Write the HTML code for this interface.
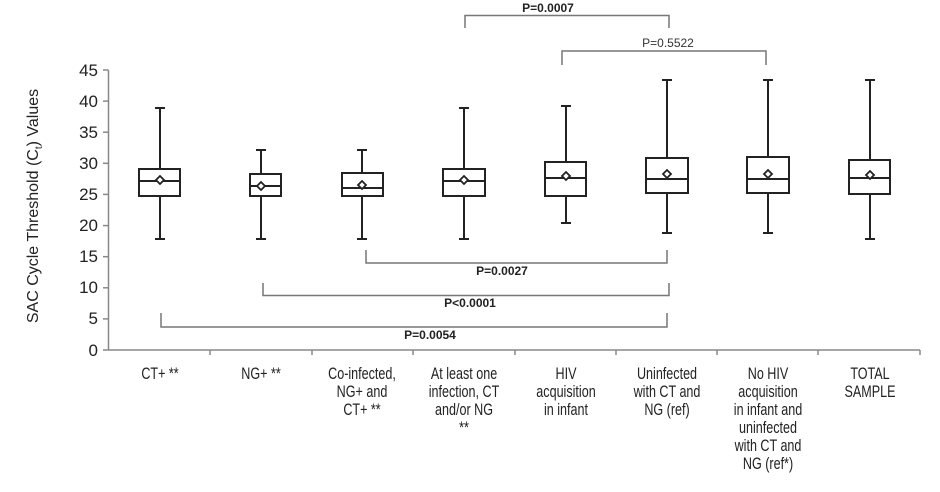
<!DOCTYPE html>
<html><head><meta charset="utf-8"><style>
html,body{margin:0;padding:0;background:#fff;}
svg{display:block;}
.b{font-family:"Liberation Sans",Arial,sans-serif;}
</style></head><body>
<svg width="940" height="492" viewBox="0 0 940 492" xmlns="http://www.w3.org/2000/svg" class="b">
<rect width="940" height="492" fill="#fff"/>
<g stroke="#888" stroke-width="1.5" fill="none">
<line x1="108.5" y1="70" x2="108.5" y2="350"/>
<line x1="108.5" y1="350" x2="920" y2="350"/>
<line x1="103" y1="70" x2="108.5" y2="70"/>
<line x1="103" y1="101.1" x2="108.5" y2="101.1"/>
<line x1="103" y1="132.2" x2="108.5" y2="132.2"/>
<line x1="103" y1="163.3" x2="108.5" y2="163.3"/>
<line x1="103" y1="194.4" x2="108.5" y2="194.4"/>
<line x1="103" y1="225.6" x2="108.5" y2="225.6"/>
<line x1="103" y1="256.7" x2="108.5" y2="256.7"/>
<line x1="103" y1="287.8" x2="108.5" y2="287.8"/>
<line x1="103" y1="318.9" x2="108.5" y2="318.9"/>
<line x1="103" y1="350" x2="108.5" y2="350"/>
<line x1="210" y1="350" x2="210" y2="355"/>
<line x1="312" y1="350" x2="312" y2="355"/>
<line x1="413" y1="350" x2="413" y2="355"/>
<line x1="515" y1="350" x2="515" y2="355"/>
<line x1="616" y1="350" x2="616" y2="355"/>
<line x1="717" y1="350" x2="717" y2="355"/>
<line x1="818" y1="350" x2="818" y2="355"/>
<line x1="920" y1="350" x2="920" y2="355"/>
</g>
<g font-size="17" fill="#222" text-anchor="end">
<text x="98" y="76">45</text><text x="98" y="107">40</text><text x="98" y="138">35</text>
<text x="98" y="169">30</text><text x="98" y="200">25</text><text x="98" y="231">20</text>
<text x="98" y="262">15</text><text x="98" y="293">10</text><text x="98" y="324">5</text>
<text x="98" y="356">0</text>
</g>
<text transform="translate(38,206) rotate(-90)" font-size="16" fill="#222" text-anchor="middle">SAC Cycle Threshold (C<tspan font-size="10" dy="4">t</tspan><tspan dy="-4">) Values</tspan></text>

<g stroke="#222" stroke-width="2" fill="none">
<line x1="160" y1="108" x2="160" y2="169"/><line x1="155" y1="108" x2="165" y2="108"/>
<line x1="160" y1="196" x2="160" y2="239"/><line x1="155" y1="239" x2="165" y2="239"/>
<rect x="139" y="169" width="41" height="27"/><line x1="139" y1="181" x2="180" y2="181"/>
<line x1="261" y1="150" x2="261" y2="174"/><line x1="256" y1="150" x2="266" y2="150"/>
<line x1="261" y1="196" x2="261" y2="239"/><line x1="256" y1="239" x2="266" y2="239"/>
<rect x="250" y="174" width="31" height="22"/><line x1="250" y1="186" x2="281" y2="186"/>
<line x1="362" y1="150" x2="362" y2="173"/><line x1="357" y1="150" x2="367" y2="150"/>
<line x1="362" y1="196" x2="362" y2="239"/><line x1="357" y1="239" x2="367" y2="239"/>
<rect x="342" y="173" width="41" height="23"/><line x1="342" y1="188" x2="383" y2="188"/>
<line x1="464" y1="108" x2="464" y2="169"/><line x1="459" y1="108" x2="469" y2="108"/>
<line x1="464" y1="196" x2="464" y2="239"/><line x1="459" y1="239" x2="469" y2="239"/>
<rect x="443" y="169" width="42" height="27"/><line x1="443" y1="181" x2="485" y2="181"/>
<line x1="566" y1="106" x2="566" y2="162"/><line x1="561" y1="106" x2="571" y2="106"/>
<line x1="566" y1="196" x2="566" y2="223"/><line x1="561" y1="223" x2="571" y2="223"/>
<rect x="545" y="162" width="41" height="34"/><line x1="545" y1="178" x2="586" y2="178"/>
<line x1="667" y1="80" x2="667" y2="158"/><line x1="662" y1="80" x2="672" y2="80"/>
<line x1="667" y1="193" x2="667" y2="233"/><line x1="662" y1="233" x2="672" y2="233"/>
<rect x="646" y="158" width="42" height="35"/><line x1="646" y1="179" x2="688" y2="179"/>
<line x1="768" y1="80" x2="768" y2="157"/><line x1="763" y1="80" x2="773" y2="80"/>
<line x1="768" y1="193" x2="768" y2="233"/><line x1="763" y1="233" x2="773" y2="233"/>
<rect x="747" y="157" width="42" height="36"/><line x1="747" y1="179" x2="789" y2="179"/>
<line x1="870" y1="80" x2="870" y2="160"/><line x1="865" y1="80" x2="875" y2="80"/>
<line x1="870" y1="194" x2="870" y2="239"/><line x1="865" y1="239" x2="875" y2="239"/>
<rect x="849" y="160" width="41" height="34"/><line x1="849" y1="178" x2="890" y2="178"/>
</g>
<g stroke="#222" stroke-width="1.8" fill="#fff">
<path d="M160 176 L164 180 L160 184 L156 180 Z"/>
<path d="M261 182 L265 186 L261 190 L257 186 Z"/>
<path d="M362 181 L366 185 L362 189 L358 185 Z"/>
<path d="M464 176 L468 180 L464 184 L460 180 Z"/>
<path d="M566 172 L570 176 L566 180 L562 176 Z"/>
<path d="M667 170 L671 174 L667 178 L663 174 Z"/>
<path d="M768 170 L772 174 L768 178 L764 174 Z"/>
<path d="M870 171 L874 175 L870 179 L866 175 Z"/>
</g>
<g stroke="#777" stroke-width="1.5" fill="none">
<path d="M465 28 V15.5 H669 V28"/>
<path d="M562 65 V51 H766 V65"/>
<path d="M366 250 V263 H667 V250"/>
<path d="M263 283 V295.5 H669 V283"/>
<path d="M161 313 V327 H667 V313"/>
</g>
<g font-size="12" font-weight="bold" fill="#222" text-anchor="middle">
<text x="548" y="12">P=0.0007</text>
<text x="668" y="47" font-weight="normal" fill="#333">P=0.5522</text>
<text x="502" y="275">P=0.0027</text>
<text x="470" y="307">P&lt;0.0001</text>
<text x="430" y="339">P=0.0054</text>
</g>
<g font-size="17" fill="#222" text-anchor="middle">
<g transform="translate(160,0) scale(0.74,1)"><text x="0" y="379">CT+ **</text></g>
<g transform="translate(261,0) scale(0.74,1)"><text x="0" y="379">NG+ **</text></g>
<g transform="translate(362,0) scale(0.74,1)"><text x="0" y="379">Co-infected,</text><text x="0" y="397">NG+ and</text><text x="0" y="415">CT+ **</text></g>
<g transform="translate(464,0) scale(0.74,1)"><text x="0" y="379">At least one</text><text x="0" y="397">infection, CT</text><text x="0" y="415">and/or NG</text><text x="0" y="433">**</text></g>
<g transform="translate(566,0) scale(0.74,1)"><text x="0" y="379">HIV</text><text x="0" y="397">acquisition</text><text x="0" y="415">in infant</text></g>
<g transform="translate(667,0) scale(0.74,1)"><text x="0" y="379">Uninfected</text><text x="0" y="397">with CT and</text><text x="0" y="415">NG (ref)</text></g>
<g transform="translate(768,0) scale(0.74,1)"><text x="0" y="379">No HIV</text><text x="0" y="397">acquisition</text><text x="0" y="415">in infant and</text><text x="0" y="433">uninfected</text><text x="0" y="451">with CT and</text><text x="0" y="469">NG (ref*)</text></g>
<g transform="translate(870,0) scale(0.74,1)"><text x="0" y="379">TOTAL</text><text x="0" y="397">SAMPLE</text></g>
</g>
</svg>
</body></html>
